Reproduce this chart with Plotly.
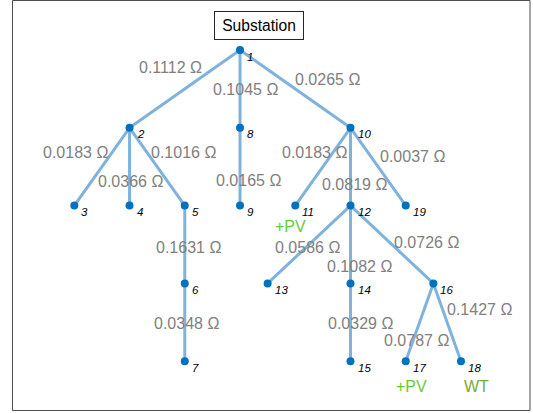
import plotly.graph_objects as go
from collections import deque

# ---- data ----
edge_src = [1, 1, 1, 2, 2, 2, 5, 6, 8, 10, 10, 10, 12, 12, 12, 14, 16, 16]
edge_dst = [2, 8, 10, 3, 4, 5, 6, 7, 9, 11, 12, 19, 13, 14, 16, 15, 17, 18]
edge_ohm = [0.1112, 0.1045, 0.0265, 0.0183, 0.0366, 0.1016, 0.1631, 0.0348, 0.0165,
            0.0183, 0.0819, 0.0037, 0.0586, 0.1082, 0.0726, 0.0329, 0.0787, 0.1427]
node_ids = list(range(1, 20))
root_name = "Substation"
extra_nodes = [11, 17, 18]
extra_text = ["+PV", "+PV", "WT"]

# ---- layout (layered horizontal slots, as in the reference) ----
node_col = {1: 4, 2: 2, 3: 1, 4: 2, 5: 3, 6: 3, 7: 3, 8: 4, 9: 4, 10: 6, 11: 5,
            12: 6, 13: 4.5, 14: 6, 15: 6, 16: 7.5, 17: 7, 18: 8, 19: 7}
# edge label pixel offsets from edge midpoint (dx right, dy down)
lbl_off = [(-14, -21), (5, 1), (32, -9), (-26, -14), (1, 15), (26, -14), (4, 3), (2, 1),
           (8, 14), (-8, -14), (4, 18), (34, -10), (-2, 3), (9, 22), (35, -2), (10, 1),
           (-3, 18), (32, -13)]
extra_off = [(-5, 21), (6, 25), (16, 25)]
extra_col = ["#66CC33", "#66CC33", "#77AC30"]

# depth from the tree
children = {n: [] for n in node_ids}
for s, d in zip(edge_src, edge_dst):
    children[s].append(d)
depth = {1: 0}
q = deque([1])
while q:
    n = q.popleft()
    for c in children[n]:
        depth[c] = depth[n] + 1
        q.append(c)

nx = [node_col[n] for n in node_ids]
ny = [depth[n] for n in node_ids]

ex, ey = [], []
for s, d in zip(edge_src, edge_dst):
    ex += [node_col[s], node_col[d], None]
    ey += [depth[s], depth[d], None]

fig = go.Figure()
fig.add_trace(go.Scatter(x=ex, y=ey, mode="lines",
                         line=dict(color="rgb(128,178,222)", width=3),
                         hoverinfo="skip", showlegend=False))
fig.add_trace(go.Scatter(x=nx, y=ny, mode="markers",
                         marker=dict(color="#0072BD", size=8),
                         showlegend=False))

ann = []
FONT = "Liberation Sans, Arial, Helvetica, sans-serif"
for n in node_ids:
    ann.append(dict(x=node_col[n], y=depth[n], text=f"<i>{n}</i>", showarrow=False,
                    xanchor="left", yanchor="middle", xshift=5, yshift=-6.5,
                    font=dict(family=FONT, size=11.5, color="black")))
for (s, d, w), (dx, dy) in zip(zip(edge_src, edge_dst, edge_ohm), lbl_off):
    mx = (node_col[s] + node_col[d]) / 2
    my = (depth[s] + depth[d]) / 2
    ann.append(dict(x=mx, y=my, text=f"{w:.4f} Ω", showarrow=False,
                    xanchor="center", yanchor="middle", xshift=dx, yshift=-dy,
                    font=dict(family=FONT, size=16, color="#808080")))
for n, t, (dx, dy), c in zip(extra_nodes, extra_text, extra_off, extra_col):
    ann.append(dict(x=node_col[n], y=depth[n], text=t, showarrow=False,
                    xanchor="center", yanchor="middle", xshift=dx, yshift=-dy,
                    font=dict(family=FONT, size=16, color=c)))
ann.append(dict(x=node_col[1], y=depth[1], text=root_name, showarrow=False,
                xanchor="center", yanchor="middle", xshift=19, yshift=24.5,
                width=84, height=23, borderpad=2, bordercolor="#262626",
                borderwidth=1, bgcolor="white",
                font=dict(family=FONT, size=15.6, color="black")))

W, H = 533, 413
px_per_x = 55.24
px_per_y = 77.8
x0 = 1 - 74.3 / px_per_x
x1 = x0 + W / px_per_x
y_top = -50 / px_per_y
y_bot = y_top + H / px_per_y

fig.update_layout(
    width=W, height=H, margin=dict(l=0, r=0, t=0, b=0),
    paper_bgcolor="white", plot_bgcolor="white",
    xaxis=dict(range=[x0, x1], visible=False, fixedrange=True),
    yaxis=dict(range=[y_bot, y_top], visible=False, fixedrange=True),
    annotations=ann,
    shapes=[dict(type="rect", xref="paper", yref="paper",
                 x0=12.5 / W, x1=530 / W, y0=1 - 410.5 / H, y1=1 - 0.5 / H,
                 line=dict(color="#4D4D4D", width=1))],
)
fig.write_html("out.html", config={"displayModeBar": False},
               post_script="document.body.style.margin='0';document.body.style.overflow='hidden';")
